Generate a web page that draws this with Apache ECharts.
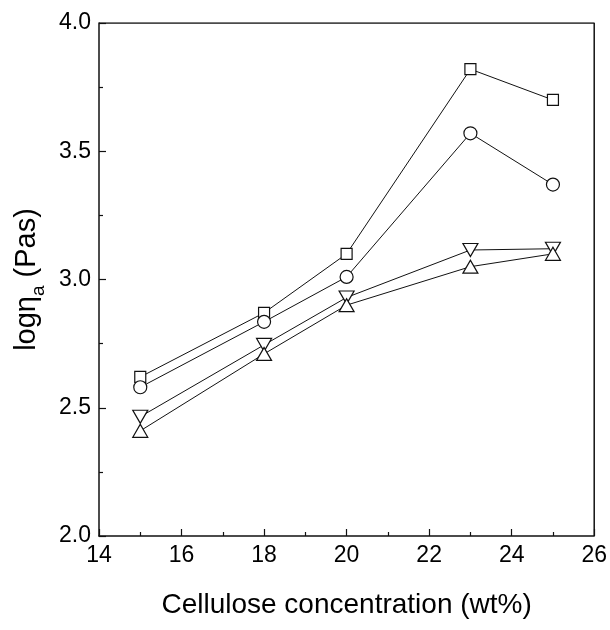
<!DOCTYPE html>
<html>
<head>
<meta charset="utf-8">
<script src="https://cdn.jsdelivr.net/npm/echarts@6/dist/echarts.min.js"></script>
<style>
    html, body { margin: 0; padding: 0; background: #fff; }
    #chart { width: 610px; height: 630px; }
</style>
</head>
<body>
<div id="chart"></div>
<script>
// cellulose concentration (wt%)
var conc = [15, 18, 20, 23, 25];

// log(eta_a) per series
var squareVals = [2.62, 2.87, 3.10, 3.82, 3.70];
var circleVals = [2.58, 2.835, 3.01, 3.57, 3.37];
var downTriVals = [2.465, 2.745, 2.93, 3.115, 3.12];
var upTriVals = [2.41, 2.71, 2.90, 3.05, 3.10];

var xTicks = [14, 16, 18, 20, 22, 24, 26];
var yTicks = [2.0, 2.5, 3.0, 3.5, 4.0];

var FONT = '"Liberation Sans", Arial, sans-serif';
var downTri = 'path://M0,0 L10,0 L5,9 Z';

function pairs(vals) {
    var out = [];
    for (var i = 0; i < conc.length; i++) {
        out.push([conc[i], vals[i]]);
    }
    return out;
}

function makeSeries(name, vals, symbol, size) {
    return {
        name: name,
        type: 'line',
        data: pairs(vals),
        symbol: symbol,
        symbolSize: size,
        showAllSymbol: true,
        lineStyle: { color: '#111', width: 1 },
        itemStyle: { color: '#fff', borderColor: '#111', borderWidth: 1.2 },
        emphasis: { disabled: true },
        z: 3
    };
}

var chart = echarts.init(document.getElementById('chart'));

var option = {
    animation: false,
    backgroundColor: '#fff',
    grid: { left: 99, right: 13, top: 23, bottom: 94 },
    xAxis: {
        type: 'value',
        min: 14, max: 26, interval: 2,
        name: 'Cellulose concentration (wt%)',
        nameLocation: 'middle',
        nameGap: 55,
        nameTextStyle: { fontFamily: FONT, fontSize: 28, color: '#000' },
        axisLine: { lineStyle: { color: '#111', width: 1.5 } },
        axisTick: { inside: true, length: 7, lineStyle: { color: '#111', width: 1.2 } },
        minorTick: { show: true, splitNumber: 2, length: 4, lineStyle: { color: '#111', width: 1.2 } },
        splitLine: { show: false },
        axisLabel: {
            margin: 8,
            fontFamily: FONT,
            fontSize: 23,
            color: '#000',
            formatter: function(v) {
                return xTicks.indexOf(v) >= 0 ? String(v) : '';
            }
        }
    },
    yAxis: {
        type: 'value',
        min: 2.0, max: 4.0, interval: 0.5,
        name: '{n|logη}{s|a}{n| (Pas)}',
        nameLocation: 'middle',
        nameGap: 58,
        nameTextStyle: {
            fontFamily: FONT,
            fontSize: 29,
            color: '#000',
            rich: {
                n: { fontFamily: FONT, fontSize: 29, color: '#000', lineHeight: 32, verticalAlign: 'bottom' },
                s: { fontFamily: FONT, fontSize: 19, color: '#000', lineHeight: 32, verticalAlign: 'bottom', padding: [0, 0, -7, 0] }
            }
        },
        axisLine: { lineStyle: { color: '#111', width: 1.5 } },
        axisTick: { inside: true, length: 7, lineStyle: { color: '#111', width: 1.2 } },
        minorTick: { show: true, splitNumber: 2, length: 4, lineStyle: { color: '#111', width: 1.2 } },
        splitLine: { show: false },
        axisLabel: {
            margin: 8,
            fontFamily: FONT,
            fontSize: 23,
            color: '#000',
            formatter: function(v) {
                return v.toFixed(1);
            }
        }
    },
    series: [
        makeSeries('square', squareVals, 'rect', 11),
        makeSeries('circle', circleVals, 'circle', 13),
        makeSeries('down', downTriVals, downTri, [15, 13]),
        makeSeries('up', upTriVals, 'triangle', [15, 13]),
        // frame on top / right
        {
            type: 'line',
            data: [[14, 4.0], [26, 4.0], [26, 2.0]],
            symbol: 'none',
            silent: true,
            lineStyle: { color: '#111', width: 1.5 },
            z: 1
        }
    ]
};

chart.setOption(option);
</script>
</body>
</html>
